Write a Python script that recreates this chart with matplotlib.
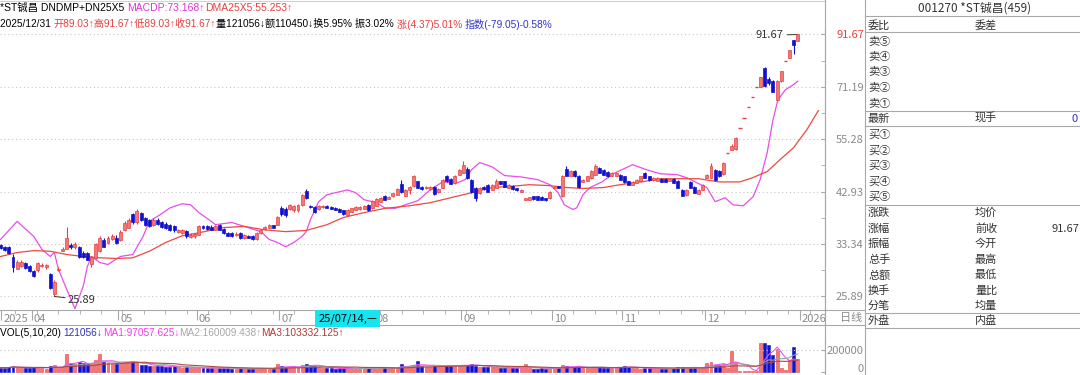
import matplotlib
matplotlib.use('Agg')
import matplotlib.pyplot as plt
import numpy as np
import pandas as pd
from matplotlib.ticker import NullFormatter

plt.rcParams['font.family'] = ['Noto Sans CJK SC', 'DejaVu Sans']

W, H = 1080, 375

# daily candles 2025-03-20 .. 2025-12-31
opens = [
    33.2, 32.9, 32.8, 31.3, 29.6, 30.0, 30.4, 30.0, 29.3, 29.4,
    30.0, 29.8, 28.9, 26.2, 29.4, 32.3, 32.6, 33.2, 32.8, 32.9,
    32.0, 31.9, 30.3, 31.1, 32.3, 34.0, 33.5, 34.2, 34.4, 34.0,
    35.7, 36.1, 38.5, 37.0, 38.8, 37.8, 37.4, 36.6, 37.5, 37.0,
    36.8, 36.5, 36.4, 35.4, 35.2, 35.5, 34.5, 34.6, 34.9, 36.4,
    36.3, 36.2, 35.7, 36.6, 35.9, 35.2, 35.1, 34.8, 35.2, 34.4,
    34.7, 34.7, 34.2, 35.1, 35.8, 36.1, 36.5, 36.6, 39.7, 39.5,
    39.4, 39.2, 39.2, 40.3, 43.1, 40.1, 39.9, 39.4, 39.9, 40.1,
    39.9, 39.7, 39.5, 39.2, 38.4, 39.0, 39.3, 39.4, 39.5, 40.3,
    39.7, 40.1, 40.9, 42.0, 41.5, 42.0, 42.3, 44.5, 42.1, 43.2,
    44.1, 45.1, 44.0, 43.6, 43.4, 44.0, 42.8, 43.8, 46.3, 45.6,
    44.8, 46.6, 47.0, 47.9, 45.5, 43.7, 42.6, 44.0, 44.4, 43.3,
    43.8, 45.1, 45.1, 43.7, 44.2, 43.7, 42.9, 41.3, 41.3, 42.0,
    42.0, 41.9, 41.6, 41.6, 43.7, 44.1, 42.0, 47.9, 46.3, 47.4,
    46.3, 45.0, 45.3, 45.8, 46.6, 48.1, 47.6, 47.3, 46.3, 46.4,
    46.6, 46.2, 45.1, 44.4, 44.8, 45.1, 47.0, 46.2, 45.4, 45.2,
    45.7, 45.7, 45.2, 45.7, 45.3, 43.3, 42.3, 44.9, 44.0, 42.5,
    43.3, 45.9, 45.9, 47.7, 47.4, 46.8, 51.8, 52.6, 52.8, 58.5,
    61.4, 64.5, 67.7, 71.1, 71.1, 78.0, 74.0, 73.3, 66.9, 73.2,
    80.85, 82.0, 89.1, 89.03,
]
highs = [
    33.4, 33.0, 33.0, 31.7, 30.8, 30.8, 30.6, 30.2, 29.4, 30.6,
    30.4, 30.3, 29.0, 28.0, 29.8, 32.8, 36.2, 33.5, 33.6, 33.1,
    32.2, 32.1, 31.5, 33.5, 34.6, 34.3, 34.7, 35.0, 34.8, 35.6,
    37.2, 37.8, 38.8, 39.4, 39.0, 38.0, 37.6, 37.8, 37.8, 37.2,
    37.0, 36.7, 36.6, 35.9, 35.8, 35.7, 35.1, 35.2, 36.6, 36.6,
    36.5, 36.5, 36.6, 36.8, 36.0, 35.3, 35.3, 35.4, 35.3, 35.0,
    34.8, 34.8, 35.3, 35.9, 36.4, 36.8, 36.6, 38.2, 40.0, 39.8,
    40.5, 40.3, 40.5, 42.5, 43.5, 40.3, 40.1, 40.2, 40.3, 40.3,
    40.1, 39.9, 39.6, 39.3, 39.5, 39.7, 40.0, 40.1, 40.2, 40.5,
    41.2, 41.6, 41.9, 42.2, 42.1, 42.7, 43.7, 45.5, 43.4, 44.2,
    46.5, 45.3, 44.2, 44.2, 44.2, 44.2, 43.7, 45.7, 46.6, 45.8,
    46.5, 47.9, 49.8, 48.3, 45.7, 43.9, 43.9, 44.2, 44.6, 44.6,
    45.6, 45.3, 45.3, 44.5, 44.3, 43.8, 43.4, 41.7, 41.9, 42.1,
    42.1, 42.0, 41.7, 43.0, 44.1, 44.2, 46.5, 48.5, 47.6, 47.6,
    46.5, 45.7, 46.3, 47.6, 49.0, 48.4, 47.8, 47.5, 47.2, 47.2,
    46.8, 46.4, 45.2, 45.2, 45.6, 46.3, 47.2, 46.3, 46.0, 46.0,
    45.8, 45.9, 45.7, 45.8, 45.5, 43.5, 43.5, 45.1, 44.2, 43.5,
    44.5, 46.8, 49.2, 48.0, 47.6, 49.5, 51.8, 54.0, 56.0, 58.5,
    61.4, 64.5, 67.7, 71.1, 74.7, 78.3, 74.5, 73.6, 73.6, 77.0,
    80.85, 84.9, 89.1, 91.67,
]
lows = [
    32.6, 32.3, 31.8, 29.2, 29.5, 29.9, 29.5, 29.1, 28.4, 29.2,
    29.9, 29.6, 26.8, 25.89, 29.3, 32.2, 32.5, 32.6, 32.6, 31.2,
    31.2, 30.8, 29.8, 31.0, 32.1, 32.8, 33.3, 34.0, 33.4, 33.9,
    35.5, 36.0, 36.8, 36.8, 37.3, 36.4, 36.2, 36.4, 36.5, 36.0,
    35.8, 35.5, 35.4, 35.2, 35.0, 34.4, 34.3, 34.4, 34.8, 35.9,
    35.6, 35.6, 35.6, 35.6, 35.0, 34.6, 34.5, 34.7, 34.2, 34.2,
    34.3, 34.0, 34.0, 35.0, 35.7, 36.0, 36.0, 36.5, 38.1, 38.0,
    39.2, 39.0, 39.0, 40.1, 41.4, 39.7, 38.8, 39.3, 39.7, 39.6,
    39.4, 39.2, 38.9, 38.4, 38.3, 38.9, 39.2, 39.3, 39.4, 39.1,
    39.5, 40.0, 40.8, 41.2, 41.4, 41.9, 42.2, 42.6, 42.0, 42.5,
    44.0, 43.7, 43.3, 43.5, 43.3, 42.3, 42.7, 43.7, 45.0, 44.5,
    44.6, 46.5, 46.9, 45.6, 42.7, 41.0, 42.4, 43.3, 42.8, 43.2,
    43.7, 44.5, 43.9, 43.6, 43.3, 43.1, 42.8, 41.2, 41.2, 41.3,
    41.2, 41.2, 41.0, 41.4, 43.6, 43.6, 41.9, 46.2, 46.2, 46.0,
    43.8, 44.9, 45.2, 45.7, 46.5, 46.9, 46.5, 46.1, 46.2, 46.3,
    45.4, 44.8, 44.3, 44.3, 44.7, 45.0, 45.8, 45.3, 45.3, 45.1,
    44.9, 44.9, 45.1, 44.7, 43.6, 42.0, 42.1, 43.6, 42.6, 42.4,
    43.2, 45.8, 45.8, 45.3, 46.0, 46.6, 51.8, 52.4, 52.6, 58.5,
    61.4, 64.5, 67.7, 71.1, 71.0, 71.0, 72.0, 69.4, 66.6, 73.0,
    80.85, 81.8, 83.5, 89.03,
]
closes = [
    32.7, 32.4, 32.0, 29.9, 30.5, 30.5, 29.7, 29.3, 28.6, 30.4,
    30.2, 30.2, 27.0, 27.8, 29.6, 32.6, 34.4, 32.8, 33.4, 31.3,
    31.3, 30.9, 31.3, 33.3, 34.4, 32.9, 34.4, 34.7, 33.5, 35.4,
    36.9, 37.5, 37.0, 39.1, 37.5, 36.6, 36.4, 37.4, 36.7, 36.2,
    36.0, 35.7, 35.6, 35.7, 35.6, 34.6, 34.9, 35.0, 36.4, 36.1,
    35.8, 35.7, 36.4, 35.7, 35.2, 34.7, 34.6, 35.0, 34.3, 34.9,
    34.4, 34.1, 35.2, 35.7, 36.2, 36.6, 36.1, 38.0, 38.6, 38.3,
    40.3, 40.1, 40.3, 42.3, 41.6, 39.9, 39.0, 40.0, 40.1, 39.7,
    39.5, 39.3, 39.0, 38.6, 39.3, 39.6, 39.8, 39.9, 40.0, 39.2,
    41.0, 41.4, 41.7, 41.3, 41.9, 42.6, 43.5, 42.8, 43.2, 44.0,
    46.2, 43.8, 43.4, 44.0, 44.0, 42.5, 43.5, 45.5, 45.1, 44.6,
    46.3, 47.7, 48.9, 45.8, 42.9, 41.6, 43.7, 43.4, 42.9, 44.4,
    45.1, 44.6, 44.0, 44.4, 43.4, 43.2, 43.3, 41.6, 41.8, 41.4,
    41.3, 41.3, 41.2, 42.9, 44.0, 43.7, 46.3, 46.3, 47.4, 46.2,
    44.0, 45.5, 46.2, 47.4, 48.5, 47.0, 46.6, 46.3, 47.0, 47.0,
    45.5, 44.9, 44.4, 45.0, 45.4, 46.2, 45.9, 45.4, 45.9, 45.9,
    45.0, 45.0, 45.6, 44.8, 43.7, 42.1, 43.3, 43.7, 42.7, 43.3,
    44.4, 46.6, 48.7, 45.5, 46.2, 49.3, 51.8, 53.5, 55.7, 58.5,
    61.4, 64.5, 67.7, 71.1, 74.6, 71.6, 72.6, 69.6, 73.3, 77.0,
    80.85, 84.9, 87.3, 91.67,
]
# volume in thousand shares
vol_k = [
    38, 35, 42, 55, 40, 30, 35, 38, 42, 45,
    30, 28, 50, 60, 35, 40, 165, 75, 70, 85,
    80, 70, 75, 105, 160, 85, 80, 75, 70, 80,
    90, 85, 95, 80, 65, 60, 55, 50, 55, 50,
    45, 45, 50, 40, 38, 42, 35, 30, 40, 35,
    32, 30, 35, 38, 33, 30, 28, 25, 30, 28,
    26, 28, 35, 32, 30, 28, 26, 70, 50, 45,
    40, 38, 45, 60, 70, 65, 55, 40, 35, 30,
    32, 28, 30, 35, 30, 28, 25, 27, 30, 35,
    40, 45, 40, 35, 30, 35, 45, 70, 50, 55,
    60, 95, 55, 45, 40, 60, 45, 55, 60, 50,
    55, 60, 65, 60, 70, 55, 45, 40, 45, 40,
    45, 35, 38, 35, 30, 32, 30, 70, 30, 28,
    25, 30, 28, 40, 35, 30, 60, 55, 45, 40,
    50, 35, 30, 35, 45, 40, 38, 35, 30, 40,
    45, 50, 45, 35, 30, 28, 32, 35, 30, 28,
    25, 28, 30, 32, 40, 45, 40, 35, 38, 35,
    40, 80, 90, 65, 60, 75, 35, 190, 85, 10,
    8, 8, 9, 10, 260, 265, 245, 155, 210, 30,
    12, 105, 230, 121.056,
]

# indicator lines (sampled from the chart): MACDP (magenta) and DMA25X5 (red)
macdp_idx = [0, 4, 8, 10, 12, 13, 14, 16, 18, 20, 21, 22, 24, 26, 27, 29,
             32, 34.5, 36, 38.6, 41, 44, 46, 48, 51, 52, 56, 59, 63, 65, 67,
             69, 71, 73, 74, 75, 77, 79, 82, 84, 86, 88, 91, 93, 95.5, 98,
             101, 104, 107, 110.5, 112.5, 114, 116, 119, 122, 126, 130, 133,
             135, 136.5, 138.5, 139.5, 141, 142.7, 145.6, 148.3, 153, 156.5,
             159.7, 163.8, 166.2, 168.6, 171, 173, 175.4, 177.3, 179.8, 182.2,
             183.9, 185.6, 187, 188.2, 190, 191.9, 193]
macdp_val = [34.1, 37.2, 34.6, 32.5, 31.4, 32.0, 29.5, 26.8, 24.4, 27.2,
             29.9, 31.4, 30.5, 30.2, 30.6, 31.4, 31.7, 34.6, 37.2, 38.4,
             39.7, 40.5, 40.3, 38.8, 37.2, 36.6, 37.0, 36.3, 35.4, 34.1,
             33.6, 32.9, 33.6, 34.6, 35.4, 37.5, 40.9, 42.3, 42.9, 43.3,
             42.7, 41.3, 40.7, 39.7, 39.6, 40.3, 41.1, 43.3, 45.0, 44.8,
             45.5, 47.7, 49.4, 48.4, 46.4, 46.1, 45.5, 44.4, 42.7, 40.3,
             39.4, 39.7, 42.3, 43.8, 45.0, 46.8, 48.9, 47.7, 46.8, 46.6,
             45.9, 44.8, 43.8, 40.9, 41.7, 40.3, 40.1, 41.9, 45.5, 51.8,
             60.7, 66.9, 70.2, 71.9, 73.17]
dma_idx = [0, 4, 8, 12, 16, 20, 24, 28, 32, 36, 40, 44, 48, 54, 59, 64, 69,
           74, 79, 83, 88, 93, 99, 104, 109, 114, 119, 123, 128, 133, 137,
           141, 146, 150, 155, 160, 164.5, 169, 174, 179, 182, 185.6, 188.7,
           192, 195.2, 198]
dma_val = [31.4, 32.0, 32.3, 32.2, 31.7, 31.4, 31.2, 31.1, 31.2, 32.2, 33.6,
           34.7, 35.2, 36.1, 36.3, 35.7, 35.4, 35.6, 36.6, 37.9, 38.8, 39.6,
           40.1, 40.7, 41.7, 42.7, 43.8, 44.0, 44.4, 44.2, 43.8, 43.6, 43.8,
           44.4, 45.0, 45.7, 45.7, 45.7, 45.0, 45.0, 45.9, 47.3, 50.1, 53.1,
           57.9, 63.5]

grid_vals = [91.67, 71.19, 55.28, 42.93, 33.34, 25.89]
month_idx = [0, 8, 29, 48, 68, 91, 112, 134, 151, 171, 194]
month_lbl = ['2025', '04', '05', '06', '07', '08', '09', '10', '11', '12', '2026']
cross_idx = 77
cross_lbl = '25/07/14,—'
low_idx = 13

RED = '#e84040'
RED_FILL = '#f27878'
BLUE = '#1212cc'
PINK = '#e84ee8'
GRID = '#c6c6c6'
LINE = '#a8a8a8'
LBL = '#8a8a8a'
HDR_FONT = ['Liberation Sans', 'Noto Sans CJK SC', 'DejaVu Sans']


def rect(x0, y0, x1, y1):
    # pixel box -> figure fraction
    return [x0 / W, 1 - y1 / H, (x1 - x0) / W, (y1 - y0) / H]


fig = plt.figure(figsize=(W / 100, H / 100), dpi=100)
fig.patch.set_facecolor('white')

o = np.array(opens); h = np.array(highs); l = np.array(lows); c = np.array(closes)
x = np.arange(len(c))
up = c >= o
lo_b = np.minimum(o, c)
hi_b = np.maximum(o, c)
flat = (hi_b - lo_b) < 0.05
XL = (-0.15, 199.6)

# ---- price panel
ax = fig.add_axes(rect(0, 28, 825, 310))
ax.set_yscale('log')
ax.set_ylim(24.25, 94.59)
ax.set_xlim(*XL)
for s in ['left', 'top', 'bottom']:
    ax.spines[s].set_visible(False)
ax.spines['right'].set_color(LINE)
ax.spines['right'].set_linewidth(0.8)

ax.vlines(x[up], l[up], h[up], color=RED, lw=0.8, zorder=3)
ax.vlines(x[~up], l[~up], h[~up], color=BLUE, lw=0.8, zorder=3)
m = up & ~flat
ax.bar(x[m], (hi_b - lo_b)[m], bottom=lo_b[m], width=0.72, color=RED_FILL,
       edgecolor=RED, lw=0.5, zorder=4)
m = ~up & ~flat
ax.bar(x[m], (hi_b - lo_b)[m], bottom=lo_b[m], width=0.72, color=BLUE,
       edgecolor=BLUE, lw=0.5, zorder=4)
ax.hlines(c[flat], x[flat] - 0.4, x[flat] + 0.4, color=RED, lw=1.0, zorder=4)

ax.plot(macdp_idx, macdp_val, color=PINK, lw=0.9, zorder=2)
ax.plot(dma_idx, dma_val, color='#ec4a42', lw=0.9, zorder=2)

ax.yaxis.tick_right()
ax.set_yticks(grid_vals)
ax.set_yticklabels(['%.2f' % v for v in grid_vals])
mids = [np.sqrt(a * b) for a, b in zip(grid_vals[:-1], grid_vals[1:])]
ax.set_yticks(mids, minor=True)
ax.yaxis.set_minor_formatter(NullFormatter())
ax.tick_params(axis='y', which='both', direction='in', length=3, color=LINE,
               labelsize=8, labelcolor=LBL, pad=28)
for t in ax.get_yticklabels():
    t.set_ha('right')
ax.get_yticklabels()[0].set_color(RED)
ax.tick_params(axis='x', bottom=False, labelbottom=False)
ax.grid(axis='y', which='major', ls=(0, (1, 2.5)), color=GRID, lw=0.8)

ax.annotate('%.2f' % l[low_idx], xy=(low_idx, l[low_idx]), xytext=(16.3, 25.5),
            fontsize=8, color='#333333', ha='left', va='center',
            arrowprops=dict(arrowstyle='-', color='#333333', lw=0.7,
                            shrinkA=0, shrinkB=0))
last = len(c) - 1
ax.annotate('%.2f' % c[last], xy=(last, h[last]), xytext=(189.5, 91.3),
            fontsize=8, color='#333333', ha='right', va='center',
            arrowprops=dict(arrowstyle='-', color='#333333', lw=0.7,
                            shrinkA=1, shrinkB=0))

# ---- date band
axd = fig.add_axes(rect(0, 310, 825, 325))
axd.set_xlim(*XL)
axd.set_ylim(0, 1)
axd.set_yticks([])
axd.spines['left'].set_visible(False)
for s in ['top', 'bottom', 'right']:
    axd.spines[s].set_color(LINE)
    axd.spines[s].set_linewidth(0.8)
tick_pos = [max(i - 0.5, 0.2) for i in month_idx]
axd.xaxis.tick_top()
axd.set_xticks(tick_pos)
axd.set_xticks(np.arange(3.5, 199, 5.2), minor=True)
axd.tick_params(axis='x', which='major', direction='in', length=7, color=LINE,
                labeltop=False)
axd.tick_params(axis='x', which='minor', direction='in', length=3, color=LINE)
for p, s in zip(tick_pos, month_lbl):
    axd.text(p + 0.5, 0.42, s, fontsize=8, color=LBL, ha='left', va='center')
axd.text(cross_idx - 0.1, 0.45, cross_lbl, fontsize=8, color='black',
         ha='left', va='center', zorder=5,
         bbox=dict(boxstyle='square,pad=0.28', fc='#17e4ee', ec='none'))

# ---- volume panel
v = np.array(vol_k) * 1000
axv = fig.add_axes(rect(0, 338, 825, 375))
axv.set_xlim(*XL)
axv.set_ylim(-30400, 310600)
for s in ['left', 'top', 'bottom']:
    axv.spines[s].set_visible(False)
axv.spines['right'].set_color(LINE)
axv.bar(x[up], v[up], width=0.72, color=RED_FILL, edgecolor=RED, lw=0.4)
axv.bar(x[~up], v[~up], width=0.72, color=BLUE, edgecolor=BLUE, lw=0.4)
vs = pd.Series(v)
axv.plot(x, vs.rolling(5, min_periods=1).mean(), color='#f050f0', lw=0.8)
axv.plot(x, vs.rolling(10, min_periods=1).mean(), color='#a0a0a0', lw=0.8)
axv.plot(x, vs.rolling(20, min_periods=1).mean(), color='#b04848', lw=0.8)
axv.yaxis.tick_right()
axv.set_yticks([0, 200000])
axv.set_yticklabels(['0', '200000'])
axv.tick_params(axis='y', direction='in', length=3, color=LINE, labelsize=8,
                labelcolor=LBL, pad=28)
for t in axv.get_yticklabels():
    t.set_ha('right')
axv.get_yticklabels()[0].set_va('baseline')
axv.tick_params(axis='x', bottom=False, labelbottom=False)
axv.axhline(200000, ls=(0, (1, 2.5)), color=GRID, lw=0.8)

# ---- overlay: frame lines, header texts, quote table
ov = fig.add_axes([0, 0, 1, 1], zorder=10)
ov.set_xlim(0, W)
ov.set_ylim(H, 0)
ov.axis('off')
ov.patch.set_alpha(0)

ov.plot([0, 825], [0.5, 0.5], color='#d0d0d0', lw=0.8)
ov.plot([825, 825], [0, H], color=LINE, lw=0.8)
ov.plot([865, 865], [0, H], color=LINE, lw=0.8)
for yy in [310, 325]:
    ov.plot([825, 865], [yy, yy], color=LINE, lw=0.8)
ov.text(840, 317.5, '日线', fontsize=8, color=LBL, va='center')

rend = fig.canvas.get_renderer()


def chain(x0, y0, parts, size=7.3):
    xx = x0
    for s, col in parts:
        t = ov.text(xx, y0, s, fontsize=size, color=col, ha='left',
                    va='center', family=HDR_FONT)
        xx = t.get_window_extent(renderer=rend).x1


chain(0, 8, [('*ST铖昌 DNDMP+DN25X5 ', 'black'),
             ('MACDP:73.168↑', '#e030d8'),
             ('DMA25X5:55.253↑', RED)], size=7.5)
chain(0, 24, [('2025/12/31 ', 'black'),
              ('开89.03↑高91.67↑低89.03↑收91.67↑', RED),
              ('量121056↓额110450↓换5.95% 振3.02% ', 'black'),
              ('涨(4.37)5.01% ', RED),
              ('指数(-79.05)-0.58%', '#3434c8')])
chain(0, 333, [('VOL(5,10,20) ', 'black'),
               ('121056↓', '#3030b8'),
               ('MA1:97057.625↓', '#f040f0'),
               ('MA2:160009.438↑', '#a8a8a8'),
               ('MA3:103332.125↑', '#b03838')])

# quote table
TX = '#333333'
ov.text(975, 8, '001270 *ST铖昌(459)', fontsize=8.5, color=TX, ha='center', va='center')
for yy in [16, 32, 111, 126, 205, 313, 328]:
    ov.plot([865, W], [yy, yy], color=LINE, lw=0.8)
ov.text(868, 25, '委比', fontsize=8, color=TX, va='center')
ov.text(975, 25, '委差', fontsize=8, color=TX, va='center')
sell = ['卖⑤', '卖④', '卖③', '卖②', '卖①']
for s, yy in zip(sell, [41.5, 57, 72.5, 88, 104]):
    ov.text(868, yy, s, fontsize=8, color=TX, va='center')
ov.text(868, 118.5, '最新', fontsize=8, color=TX, va='center')
ov.text(975, 118.5, '现手', fontsize=8, color=TX, va='center')
ov.text(1078, 118.5, '0', fontsize=8, color='#2c2cd0', ha='right', va='center')
buy = ['买①', '买②', '买③', '买④', '买⑤']
for s, yy in zip(buy, [135, 151, 166, 182, 197]):
    ov.text(868, yy, s, fontsize=8, color=TX, va='center')
left_rows = ['涨跌', '涨幅', '振幅', '总手', '总额', '换手', '分笔']
mid_rows = ['均价', '前收', '今开', '最高', '最低', '量比', '均量']
for a, b, yy in zip(left_rows, mid_rows, [213, 228.5, 244, 259.5, 275, 290.5, 306]):
    ov.text(868, yy, a, fontsize=8, color=TX, va='center')
    ov.text(975, yy, b, fontsize=8, color=TX, va='center')
ov.text(1079, 228.5, '91.67', fontsize=8, color=TX, ha='right', va='center')
ov.text(868, 321, '外盘', fontsize=8, color=TX, va='center')
ov.text(975, 321, '内盘', fontsize=8, color=TX, va='center')

fig.savefig('out.png', dpi=100)
